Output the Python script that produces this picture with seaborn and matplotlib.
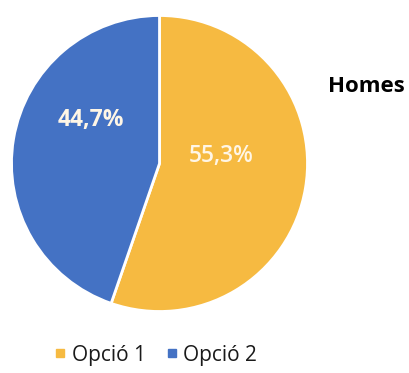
import numpy as np
import matplotlib
matplotlib.use("Agg")
import matplotlib.pyplot as plt
import seaborn as sns
from matplotlib.lines import Line2D

# Survey answers for men
categories = ["Opció 1", "Opció 2"]
shares = [55.3, 44.7]
value_labels = ["55,3%", "44,7%"]
title_text = "Homes"

colors = ["#F6BA41", "#4472C4"]

sns.set_theme(style="white")
plt.rcParams["font.family"] = ["Open Sans", "DejaVu Sans"]

W, H = 409, 373
fig = plt.figure(figsize=(W / 100, H / 100), dpi=100)

# Pie axes placed in pixel units: centre and radius
cx, cy, r = 159.5, 163.5, 148
ax = fig.add_axes([(cx - r) / W, (H - cy - r) / H, 2 * r / W, 2 * r / H])

wedges, _ = ax.pie(
    shares,
    colors=colors,
    startangle=90,
    counterclock=False,
    radius=1.0,
    wedgeprops=dict(edgecolor="white", linewidth=2),
)
ax.set_xlim(-1, 1)
ax.set_ylim(-1, 1)
ax.set_aspect("equal")
ax.axis("off")

# Value labels inside each wedge (radius fraction, angle in degrees)
label_pos = [(0.42, 7), (0.55, 148)]
label_weights = ["semibold", "bold"]
for txt, (rr, ang), wt in zip(value_labels, label_pos, label_weights):
    a = np.deg2rad(ang)
    ax.text(rr * np.cos(a), rr * np.sin(a), txt, ha="center", va="center",
            color="#FFF6E6", fontsize=16.5, fontweight=wt)

fig.text(366 / W, 1 - 86 / H, title_text, ha="center", va="center",
         fontsize=16, fontweight="bold", color="black")

handles = [Line2D([0], [0], marker="s", linestyle="", markersize=6,
                  markerfacecolor=c, markeredgecolor=c) for c in colors]
fig.legend(handles, categories, loc="center", bbox_to_anchor=(156 / W, 1 - 355 / H),
           ncol=2, frameon=False, fontsize=15, handlelength=0.5,
           handletextpad=0.3, columnspacing=1.0, labelcolor="#1a1a1a")

fig.savefig("out.png", dpi=100, facecolor="white")
